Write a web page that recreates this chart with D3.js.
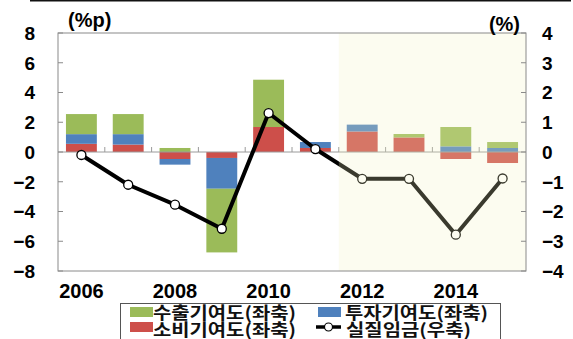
<!DOCTYPE html>
<html><head><meta charset="utf-8">
<script src="https://cdn.jsdelivr.net/npm/d3@7"></script>
<style>
html,body{margin:0;padding:0;background:#fff;}
svg{display:block;}
</style></head>
<body>
<svg id="c" width="573" height="339"></svg>
<script>
const years = [2006, 2007, 2008, 2009, 2010, 2011, 2012, 2013, 2014, 2015];
const consumption = [0.55, 0.5, -0.47, -0.4, 1.68, 0.27, 1.38, 0.98, -0.47, -0.74];
const investment  = [0.65, 0.7, -0.38, -2.07, 0, 0.4, 0.46, 0, 0.38, 0.27];
const exports_    = [1.35, 1.35, 0.27, -4.28, 3.18, 0, 0, 0.23, 1.3, 0.4];
const realWage    = [-0.1, -1.1, -1.77, -2.58, 1.31, 0.1, -0.9, -0.9, -2.78, -0.89];
const leftTicks  = [-8, -6, -4, -2, 0, 2, 4, 6, 8];
const rightTicks = [-4, -3, -2, -1, 0, 1, 2, 3, 4];
const xLabelYears = [2006, 2008, 2010, 2012, 2014];
const shadeFrom = 2012;
const legendLabels = ["수출기여도(좌축)", "투자기여도(좌축)", "소비기여도(좌축)", "실질임금(우축)"];

const C = {green:"#9bbb59", blue:"#4f81bd", red:"#cd4f4a"};
const svg = d3.select("#c");
const L = 58, R = 526, T = 33, B = 271;

const x = d3.scaleBand().domain(years).range([L, R]).padding(0);
const bw = x.bandwidth() * 0.66;
const yL = d3.scaleLinear().domain([-8, 8]).range([B, T]);
const yR = d3.scaleLinear().domain([-4, 4]).range([B, T]);

// top rule
svg.append("rect").attr("x", 30).attr("y", 0).attr("width", 541).attr("height", 1.5).attr("fill", "#111");

// stack
const table = years.map((yr, i) => ({year: yr, cons: consumption[i], inv: investment[i], exp: exports_[i]}));
const keys = ["cons", "inv", "exp"];
const colors = {cons: C.red, inv: C.blue, exp: C.green};
const series = d3.stack().keys(keys).offset(d3.stackOffsetDiverging)(table);

const gBars = svg.append("g");
series.forEach(s => {
  gBars.selectAll(null).data(s).join("rect")
    .attr("x", d => x(d.data.year) + (x.bandwidth() - bw) / 2)
    .attr("width", bw)
    .attr("y", d => yL(Math.max(d[0], d[1])))
    .attr("height", d => Math.abs(yL(d[0]) - yL(d[1])))
    .attr("fill", colors[s.key]);
});

// zero axis
svg.append("line").attr("x1", L).attr("x2", R).attr("y1", yL(0)).attr("y2", yL(0))
  .attr("stroke", "#9a9a9a").attr("stroke-width", 1);
// category ticks on zero axis
svg.append("g").selectAll("line").data(years.slice(1)).join("line")
  .attr("x1", d => x(d)).attr("x2", d => x(d))
  .attr("y1", yL(0)).attr("y2", yL(0) - 5)
  .attr("stroke", "#9a9a9a");

// line
const line = d3.line().x((d, i) => x(years[i]) + x.bandwidth() / 2).y(d => yR(d));
svg.append("path").datum(realWage).attr("d", line)
  .attr("fill", "none").attr("stroke", "#000").attr("stroke-width", 4).attr("stroke-linejoin", "round");
svg.append("g").selectAll("circle").data(realWage).join("circle")
  .attr("cx", (d, i) => x(years[i]) + x.bandwidth() / 2)
  .attr("cy", d => yR(d)).attr("r", 4.5)
  .attr("fill", "#fff").attr("stroke", "#000").attr("stroke-width", 1.3);

// shaded (forecast) overlay
svg.append("rect").attr("x", x(shadeFrom)).attr("y", T).attr("width", R - x(shadeFrom)).attr("height", B - T)
  .attr("fill", "rgb(242,242,192)").attr("opacity", 0.24);

// frame
svg.append("rect").attr("x", L).attr("y", T).attr("width", R - L).attr("height", B - T)
  .attr("fill", "none").attr("stroke", "#8a8a8a").attr("stroke-width", 1);

// inner ticks
svg.append("g").selectAll("line").data(leftTicks).join("line")
  .attr("x1", L).attr("x2", L + 5).attr("y1", d => yL(d)).attr("y2", d => yL(d)).attr("stroke", "#8a8a8a");
svg.append("g").selectAll("line").data(rightTicks).join("line")
  .attr("x1", R - 5).attr("x2", R).attr("y1", d => yR(d)).attr("y2", d => yR(d)).attr("stroke", "#8a8a8a");

const fmt = v => (v < 0 ? "\u2212" + Math.abs(v) : String(v));
const numFont = "'Liberation Sans', Arial, sans-serif";

svg.append("g").selectAll("text").data(leftTicks).join("text")
  .attr("x", 35).attr("y", d => yL(d)).attr("dy", "0.36em")
  .attr("text-anchor", "end").attr("font-family", numFont).attr("font-weight", "bold").attr("font-size", 19)
  .text(fmt);
svg.append("g").selectAll("text").data(rightTicks).join("text")
  .attr("x", 542).attr("y", d => yR(d)).attr("dy", "0.36em")
  .attr("text-anchor", "start").attr("font-family", numFont).attr("font-weight", "bold").attr("font-size", 19)
  .text(fmt);
svg.append("g").selectAll("text").data(xLabelYears).join("text")
  .attr("x", d => x(d) + x.bandwidth() / 2).attr("y", 291).attr("dy", "0.36em")
  .attr("text-anchor", "middle").attr("font-family", numFont).attr("font-weight", "bold").attr("font-size", 20)
  .text(d => d);

svg.append("text").attr("x", 68).attr("y", 20).attr("dy", "0.36em")
  .attr("font-family", numFont).attr("font-weight", "bold").attr("font-size", 20).text("(%p)");
svg.append("text").attr("x", 520).attr("y", 24).attr("dy", "0.36em").attr("text-anchor", "end")
  .attr("font-family", numFont).attr("font-weight", "bold").attr("font-size", 20).text("(%)");

// legend
const lg = svg.append("g");
lg.append("rect").attr("x", 120.5).attr("y", 303.5).attr("width", 380).attr("height", 50)
  .attr("fill", "#fff").attr("stroke", "#555").attr("stroke-width", 1);
const kfont = "'Noto Sans CJK KR', sans-serif";
const items = [
  {sx: 130, tx: 153, cy: 312, ty: 312.5, type: "rect", color: C.green, label: legendLabels[0], w: 143},
  {sx: 318, tx: 345, cy: 312, ty: 312.5, type: "rect", color: C.blue, label: legendLabels[1], w: 143},
  {sx: 130, tx: 153, cy: 327, ty: 329.5, type: "rect", color: C.red, label: legendLabels[2], w: 143},
  {sx: 316, tx: 346, cy: 327, ty: 329.5, type: "line", color: "#000", label: legendLabels[3], w: 125}
];
items.forEach(it => {
  if (it.type === "rect") {
    lg.append("rect").attr("x", it.sx).attr("y", it.cy - 5).attr("width", 23).attr("height", 10).attr("fill", it.color);
  } else {
    lg.append("line").attr("x1", it.sx).attr("x2", it.sx + 25).attr("y1", it.cy).attr("y2", it.cy)
      .attr("stroke", "#000").attr("stroke-width", 3.5);
    lg.append("circle").attr("cx", it.sx + 12.5).attr("cy", it.cy).attr("r", 4)
      .attr("fill", "#fff").attr("stroke", "#000").attr("stroke-width", 1.2);
  }
  lg.append("text").attr("x", it.tx).attr("y", it.ty).attr("dy", "0.36em")
    .attr("font-family", kfont).attr("font-weight", "bold").attr("font-size", 17)
    .attr("textLength", it.w).attr("lengthAdjust", "spacingAndGlyphs")
    .attr("fill", "#111").text(it.label);
});
</script>
</body></html>
